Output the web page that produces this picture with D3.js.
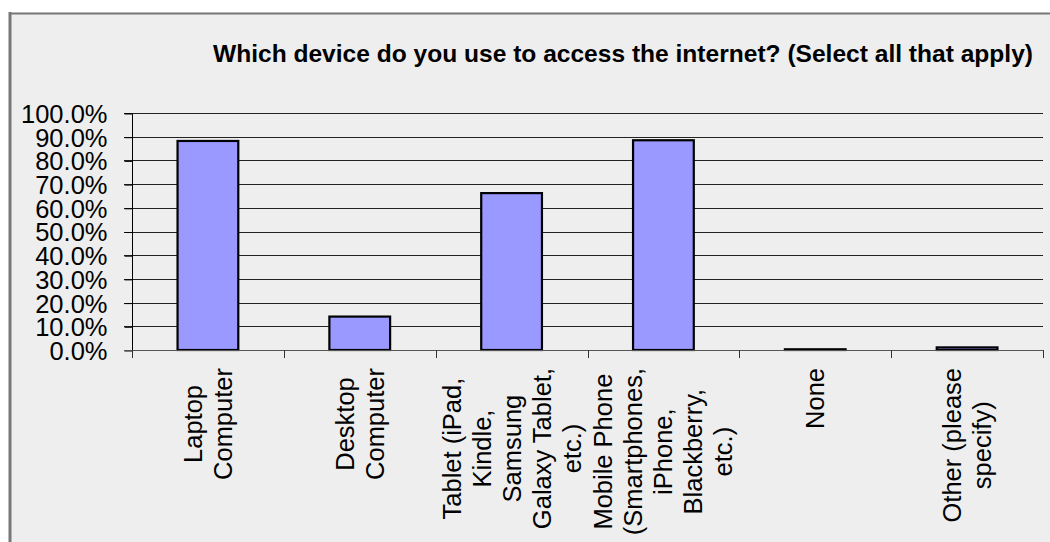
<!DOCTYPE html>
<html>
<head>
<meta charset="utf-8">
<script src="https://cdn.jsdelivr.net/npm/d3@7/dist/d3.min.js"></script>
<style>
  html, body { margin: 0; padding: 0; background: #ffffff; }
  svg { display: block; }
  text { font-family: "Liberation Sans", Arial, sans-serif; fill: #000; }
</style>
</head>
<body>
<svg id="chart" width="1050" height="542"></svg>
<script>
// Survey responses: share of respondents using each device
const categories = [
  "Laptop Computer",
  "Desktop Computer",
  "Tablet (iPad, Kindle, Samsung Galaxy Tablet, etc.)",
  "Mobile Phone (Smartphones, iPhone, Blackberry, etc.)",
  "None",
  "Other (please specify)"
];
const categoryLines = [
  ["Laptop", "Computer"],
  ["Desktop", "Computer"],
  ["Tablet (iPad,", "Kindle,", "Samsung", "Galaxy Tablet,", "etc.)"],
  ["Mobile Phone", "(Smartphones,", "iPhone,", "Blackberry,", "etc.)"],
  ["None"],
  ["Other (please", "specify)"]
];
const values = [0.882, 0.141, 0.662, 0.885, 0.003, 0.011];
const yTicks = [0, 0.1, 0.2, 0.3, 0.4, 0.5, 0.6, 0.7, 0.8, 0.9, 1.0];
const titleText = "Which device do you use to access the internet? (Select all that apply)";

const svg = d3.select("#chart");

// panel background and frame
svg.append("rect").attr("x", 10).attr("y", 13).attr("width", 1050).attr("height", 540)
  .attr("fill", "#eeeeee");
svg.append("line").attr("x1", 10).attr("x2", 10).attr("y1", 12).attr("y2", 542)
  .attr("stroke", "#777").attr("stroke-width", 3);
svg.append("line").attr("x1", 9).attr("x2", 1050).attr("y1", 13.5).attr("y2", 13.5)
  .attr("stroke", "#777").attr("stroke-width", 2);

// plot area
const plotLeft = 132, plotRight = 1043, plotTop = 113, plotBottom = 350;

const x = d3.scaleBand().domain(categories).range([plotLeft, plotRight])
  .paddingInner(0.6).paddingOuter(0.3);
const y = d3.scaleLinear().domain([0, 1]).range([plotBottom, plotTop]);

// horizontal gridlines
svg.append("g").selectAll("line").data(yTicks.filter(d => d > 0)).join("line")
  .attr("x1", plotLeft - 8).attr("x2", plotRight)
  .attr("y1", d => Math.round(y(d)) + 0.5).attr("y2", d => Math.round(y(d)) + 0.5)
  .attr("stroke", "#222").attr("stroke-width", 1);

// y axis
const yAxis = d3.axisLeft(y).tickValues(yTicks).tickSize(8).tickPadding(17)
  .tickFormat(d3.format(".1%"));
const gy = svg.append("g").attr("transform", `translate(${plotLeft + 0.5},0.5)`).call(yAxis);
gy.select(".domain").attr("stroke", "#000").attr("d", `M-8,${plotBottom}H0V${plotTop}H-8`);
gy.selectAll(".tick line").attr("stroke", "#000");
gy.selectAll(".tick text").attr("font-size", 25.5).attr("dy", "0.35em")
  .style("font-family", '"Liberation Sans", Arial, sans-serif').attr("fill", "#000");

// bars
svg.append("g").selectAll("rect").data(categories).join("rect")
  .attr("x", d => x(d)).attr("width", x.bandwidth())
  .attr("y", (d, i) => y(values[i]))
  .attr("height", (d, i) => plotBottom - y(values[i]))
  .attr("fill", "#9999ff").attr("stroke", "#000").attr("stroke-width", 2.2);

// x axis line and category boundary ticks
const step = (plotRight - plotLeft) / categories.length;
svg.append("line").attr("x1", plotLeft - 8).attr("x2", plotRight)
  .attr("y1", plotBottom + 0.5).attr("y2", plotBottom + 0.5)
  .attr("stroke", "#555").attr("stroke-width", 1);
svg.append("g").selectAll("line").data(d3.range(categories.length + 1)).join("line")
  .attr("x1", i => Math.round(plotLeft + i * step) + 0.5)
  .attr("x2", i => Math.round(plotLeft + i * step) + 0.5)
  .attr("y1", plotBottom).attr("y2", plotBottom + 8)
  .attr("stroke", "#333").attr("stroke-width", 1);

// rotated, multi-line category labels
const labelTop = 368, lineH = 30, labelSize = 25.5;
categories.forEach((c, i) => {
  const cx = x(c) + x.bandwidth() / 2;
  const lines = categoryLines[i];
  const t = svg.append("text")
    .attr("font-size", labelSize).attr("text-anchor", "middle");
  lines.forEach((ln, j) => {
    t.append("tspan").attr("x", 0)
      .attr("y", (j - (lines.length - 1) / 2) * lineH)
      .attr("dy", "0.35em").text(ln);
  });
  let maxW = 0;
  t.selectAll("tspan").each(function () {
    maxW = Math.max(maxW, this.getComputedTextLength());
  });
  t.attr("transform", `translate(${cx},${labelTop + maxW / 2}) rotate(-90)`);
});

// title
svg.append("text").attr("x", 1033).attr("y", 62).attr("text-anchor", "end")
  .attr("font-size", 24).attr("font-weight", "bold")
  .attr("textLength", 820).attr("lengthAdjust", "spacingAndGlyphs")
  .text(titleText);
</script>
</body>
</html>
